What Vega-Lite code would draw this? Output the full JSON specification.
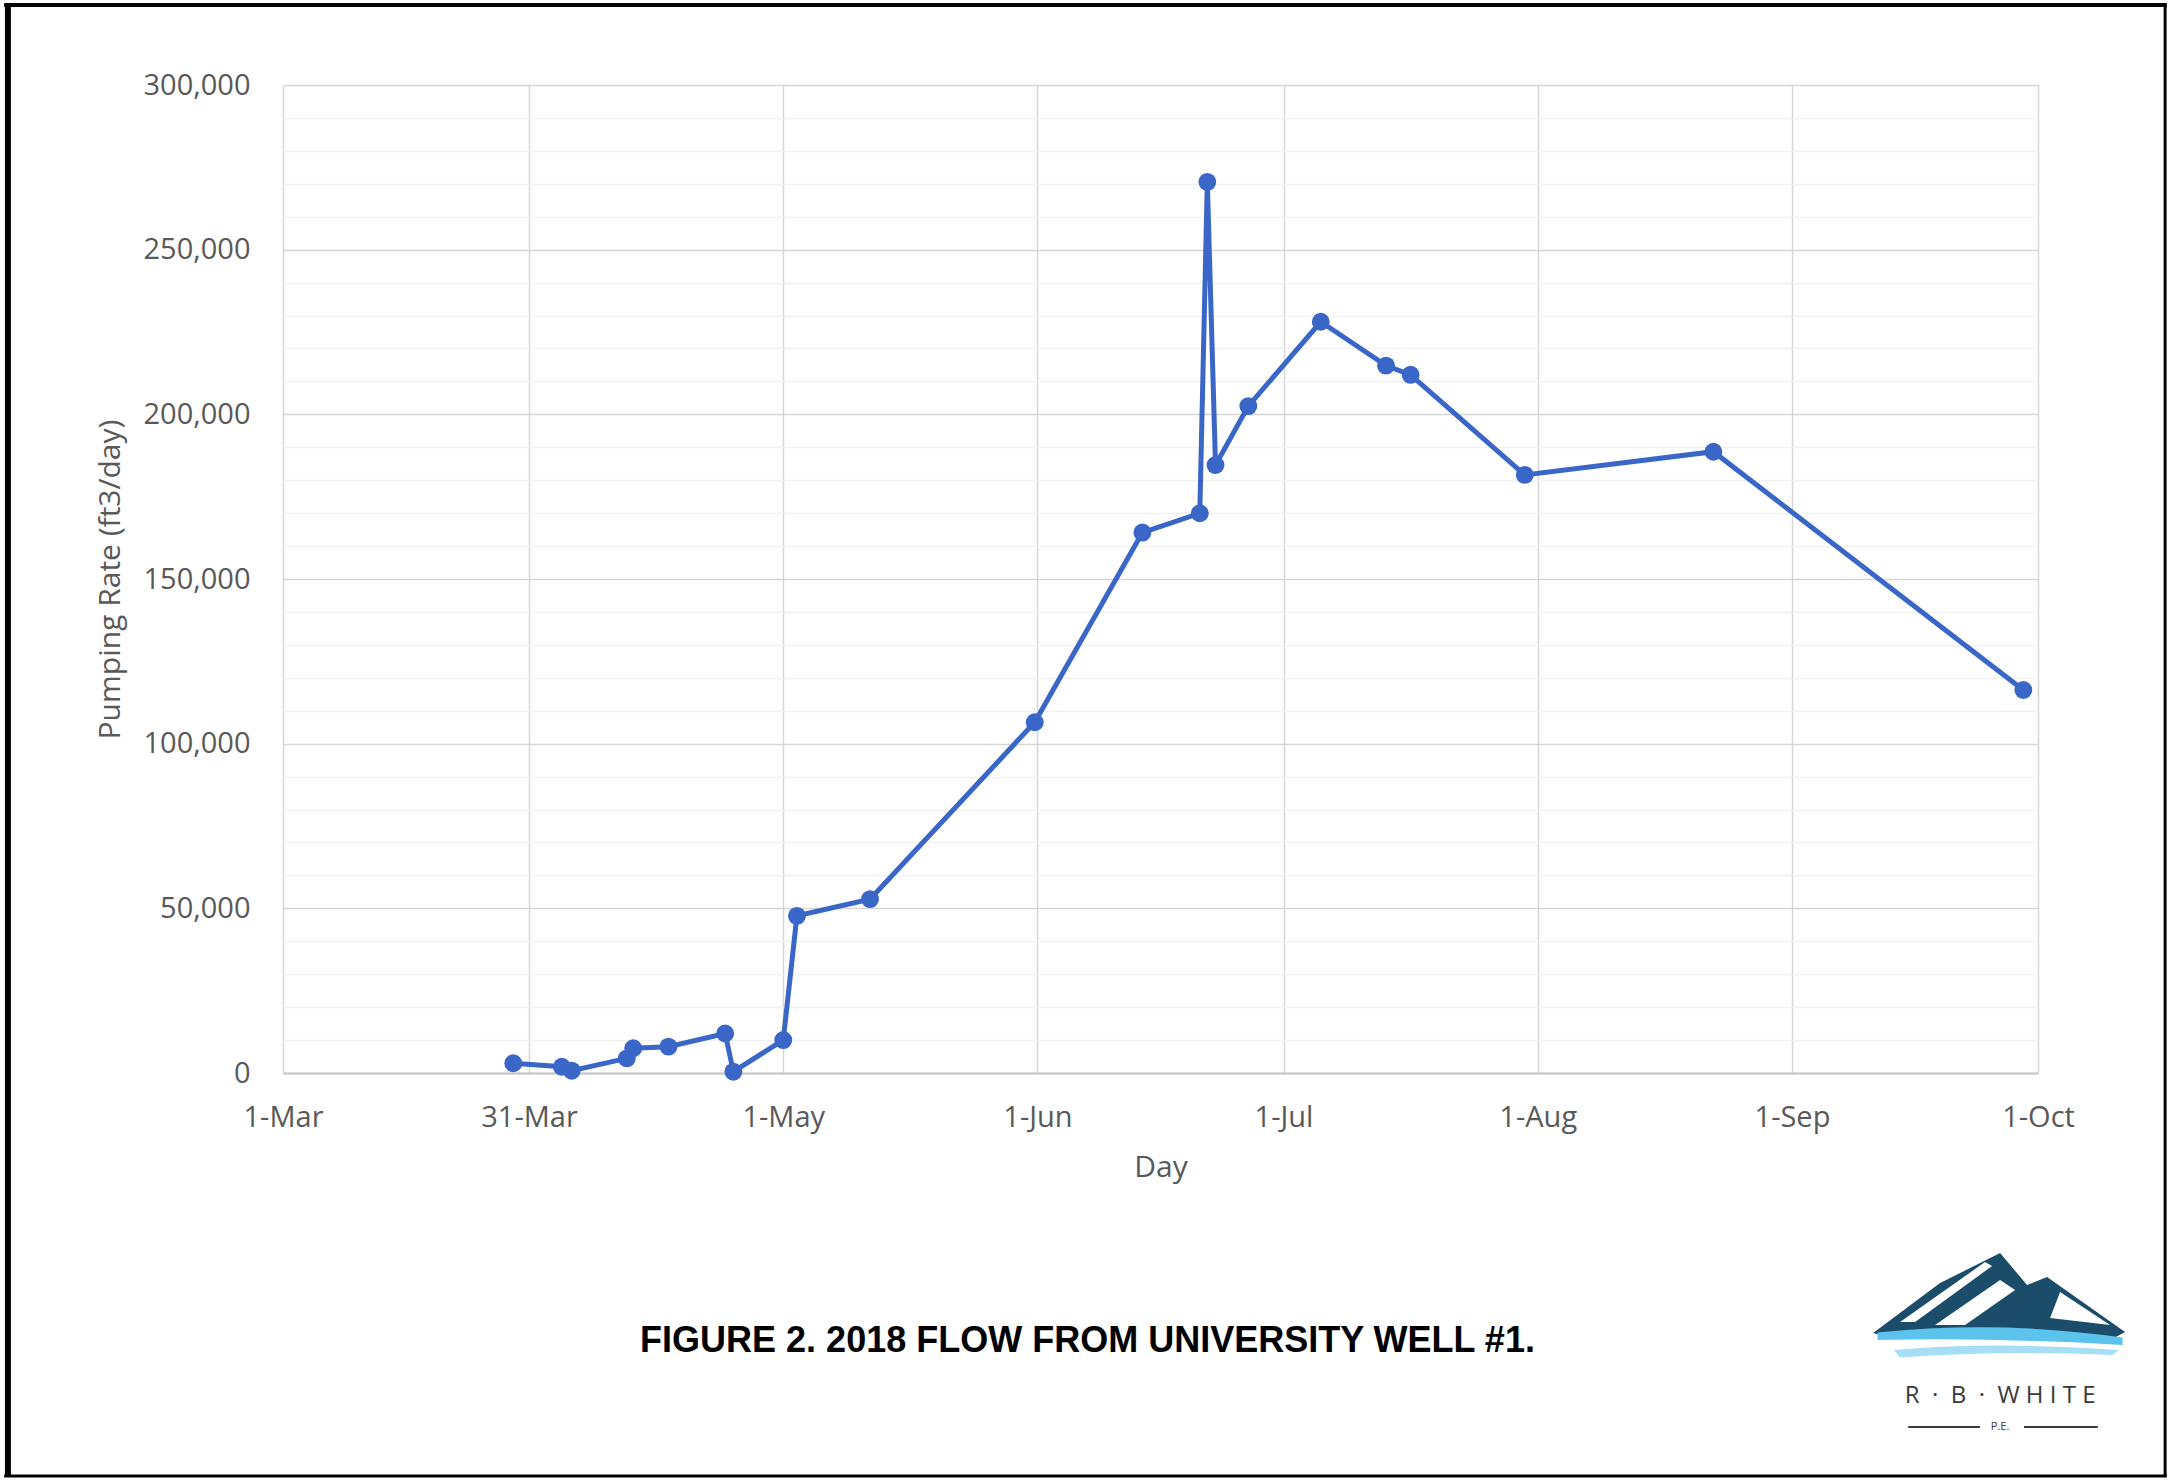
{
  "$schema": "https://vega.github.io/schema/vega-lite/v6.json",
  "autosize": "none",
  "width": 1755,
  "height": 988,
  "padding": {"left": 283, "top": 85, "right": 131, "bottom": 407},
  "background": "#ffffff",
  "config": {"view": {"stroke": null}},
  "title": {
    "text": "FIGURE 2. 2018 FLOW FROM UNIVERSITY WELL #1.",
    "orient": "bottom",
    "anchor": "middle",
    "font": "Liberation Sans",
    "fontSize": 36,
    "fontWeight": "bold",
    "color": "#000000",
    "dx": -73,
    "offset": -155
  },
  "datasets": {
    "flow": [
      {"date": "2018-03-29T02:00:00", "rate": 2950},
      {"date": "2018-04-04T00:00:00", "rate": 1900},
      {"date": "2018-04-05T05:00:00", "rate": 700},
      {"date": "2018-04-11T22:00:00", "rate": 4450},
      {"date": "2018-04-12T17:00:00", "rate": 7500},
      {"date": "2018-04-17T00:00:00", "rate": 8000},
      {"date": "2018-04-23T22:00:00", "rate": 12000},
      {"date": "2018-04-24T22:00:00", "rate": 400},
      {"date": "2018-05-01T00:00:00", "rate": 10000},
      {"date": "2018-05-02T16:00:00", "rate": 47700},
      {"date": "2018-05-11T14:00:00", "rate": 52800},
      {"date": "2018-05-31T16:00:00", "rate": 106500},
      {"date": "2018-06-13T19:00:00", "rate": 164100},
      {"date": "2018-06-20T19:00:00", "rate": 169950},
      {"date": "2018-06-21T17:00:00", "rate": 270600},
      {"date": "2018-06-22T17:00:00", "rate": 184600},
      {"date": "2018-06-26T17:00:00", "rate": 202500},
      {"date": "2018-07-05T13:00:00", "rate": 228100},
      {"date": "2018-07-13T12:00:00", "rate": 214800},
      {"date": "2018-07-16T12:00:00", "rate": 212000},
      {"date": "2018-07-30T10:00:00", "rate": 181600},
      {"date": "2018-08-22T10:00:00", "rate": 188650},
      {"date": "2018-09-29T05:00:00", "rate": 116300}
    ],
    "one": [{}]
  },
  "layer": [
    {
      "data": {"name": "flow"},
      "mark": {"type": "line", "color": "#3a66c8", "strokeWidth": 5},
      "encoding": {
        "x": {
          "field": "date",
          "type": "temporal",
          "scale": {"domain": [{"year": 2018, "month": 3, "date": 1}, {"year": 2018, "month": 10, "date": 1}]},
          "axis": {
            "title": "Day",
            "values": [
              {"year": 2018, "month": 3, "date": 1},
              {"year": 2018, "month": 3, "date": 31},
              {"year": 2018, "month": 5, "date": 1},
              {"year": 2018, "month": 6, "date": 1},
              {"year": 2018, "month": 7, "date": 1},
              {"year": 2018, "month": 8, "date": 1},
              {"year": 2018, "month": 9, "date": 1},
              {"year": 2018, "month": 10, "date": 1}
            ],
            "tickCount": 20,
            "format": "%-d-%b",
            "labelFlush": false,
            "labelOverlap": false,
            "grid": true,
            "gridColor": "#d6d6d6",
            "gridWidth": 1.5,
            "domain": true,
            "domainColor": "#c4c4c4",
            "domainWidth": 2,
            "ticks": false,
            "tickSize": 0,
            "labelPadding": 30,
            "labelFont": "Open Sans",
            "labelFontSize": 29,
            "labelColor": "#595959",
            "titleFont": "Open Sans",
            "titleFontSize": 30,
            "titleFontWeight": "normal",
            "titleColor": "#595959",
            "titlePadding": 20
          }
        },
        "y": {
          "field": "rate",
          "type": "quantitative",
          "scale": {"domain": [0, 300000], "nice": false},
          "axis": {
            "title": "Pumping Rate (ft3/day)",
            "values": [0, 10000, 20000, 30000, 40000, 50000, 60000, 70000, 80000, 90000, 100000, 110000, 120000, 130000, 140000, 150000, 160000, 170000, 180000, 190000, 200000, 210000, 220000, 230000, 240000, 250000, 260000, 270000, 280000, 290000, 300000],
            "tickCount": 60,
            "labelExpr": "datum.value % 50000 === 0 ? format(datum.value, ',') : ''",
            "labelOverlap": false,
            "grid": true,
            "gridColor": {"condition": {"test": "datum.value % 50000 === 0", "value": "#d6d6d6"}, "value": "#f1f1f1"},
            "gridWidth": 1.5,
            "domain": false,
            "ticks": false,
            "tickSize": 0,
            "labelPadding": 33,
            "labelFont": "Open Sans",
            "labelFontSize": 29,
            "labelColor": "#595959",
            "titleFont": "Open Sans",
            "titleFontSize": 30,
            "titleFontWeight": "normal",
            "titleColor": "#595959",
            "titlePadding": 18
          }
        }
      }
    },
    {
      "data": {"name": "flow"},
      "mark": {"type": "point", "filled": true, "color": "#3a66c8", "size": 320, "opacity": 1},
      "encoding": {
        "x": {"field": "date", "type": "temporal", "scale": {"domain": [{"year": 2018, "month": 3, "date": 1}, {"year": 2018, "month": 10, "date": 1}]}},
        "y": {"field": "rate", "type": "quantitative", "scale": {"domain": [0, 300000], "nice": false}}
      }
    },
    {
      "data": {"name": "one"},
      "mark": {"type": "point", "filled": true, "clip": false, "size": 62500, "color": "#1b4d6b", "opacity": 1, "strokeWidth": 0,
        "shape": "M-1.016,0.264 L-0.48,-0.136 L0,-0.376 L0.216,-0.12 L0.376,-0.184 L1,0.256 L0.88,0.32 L0,0.264 L-0.88,0.304 Z"},
      "encoding": {
        "x": {"datum": {"year": 2018, "month": 9, "date": 26, "hours": 9}, "type": "temporal", "scale": {"domain": [{"year": 2018, "month": 3, "date": 1}, {"year": 2018, "month": 10, "date": 1}]}},
        "y": {"datum": -68926, "type": "quantitative", "scale": {"domain": [0, 300000], "nice": false}}
      }
    },
    {
      "data": {"name": "one"},
      "mark": {"type": "point", "filled": true, "clip": false, "size": 62500, "color": "#ffffff", "opacity": 1, "strokeWidth": 0,
        "shape": "M-0.8,0.176 L-0.12,-0.304 L-0.064,-0.272 L-0.68,0.176 Z M-0.52,0.2 L0,-0.16 L0.12,-0.08 L-0.28,0.2 Z M0.4,0.144 L0.48,-0.064 L0.88,0.2 Z"},
      "encoding": {
        "x": {"datum": {"year": 2018, "month": 9, "date": 26, "hours": 9}, "type": "temporal", "scale": {"domain": [{"year": 2018, "month": 3, "date": 1}, {"year": 2018, "month": 10, "date": 1}]}},
        "y": {"datum": -68926, "type": "quantitative", "scale": {"domain": [0, 300000], "nice": false}}
      }
    },
    {
      "data": {"name": "one"},
      "mark": {"type": "point", "filled": true, "clip": false, "size": 62500, "color": "#5cc4ec", "opacity": 1, "strokeWidth": 0,
        "shape": "M-0.98,0.26 Q0,0.16 0.98,0.3 L0.98,0.36 Q0,0.3 -0.98,0.32 Z"},
      "encoding": {
        "x": {"datum": {"year": 2018, "month": 9, "date": 26, "hours": 9}, "type": "temporal", "scale": {"domain": [{"year": 2018, "month": 3, "date": 1}, {"year": 2018, "month": 10, "date": 1}]}},
        "y": {"datum": -68926, "type": "quantitative", "scale": {"domain": [0, 300000], "nice": false}}
      }
    },
    {
      "data": {"name": "one"},
      "mark": {"type": "point", "filled": true, "clip": false, "size": 62500, "color": "#a6def5", "opacity": 1, "strokeWidth": 0,
        "shape": "M-0.85,0.4 Q0,0.33 0.95,0.4 L0.9,0.44 Q0,0.4 -0.8,0.46 Z"},
      "encoding": {
        "x": {"datum": {"year": 2018, "month": 9, "date": 26, "hours": 9}, "type": "temporal", "scale": {"domain": [{"year": 2018, "month": 3, "date": 1}, {"year": 2018, "month": 10, "date": 1}]}},
        "y": {"datum": -68926, "type": "quantitative", "scale": {"domain": [0, 300000], "nice": false}}
      }
    },
    {
      "data": {"name": "one"},
      "mark": {"type": "text", "clip": false, "font": "Open Sans", "fontSize": 24, "color": "#3a3a3a", "align": "center", "baseline": "middle",
        "text": "R\u00a0\u00a0\u00b7\u00a0\u00a0B\u00a0\u00a0\u00b7\u00a0\u00a0W\u00a0H\u00a0I\u00a0T\u00a0E"},
      "encoding": {
        "x": {"datum": {"year": 2018, "month": 9, "date": 26, "hours": 9}, "type": "temporal", "scale": {"domain": [{"year": 2018, "month": 3, "date": 1}, {"year": 2018, "month": 10, "date": 1}]}},
        "y": {"datum": -98076, "type": "quantitative", "scale": {"domain": [0, 300000], "nice": false}}
      }
    },
    {
      "data": {"name": "one"},
      "mark": {"type": "text", "clip": false, "font": "Open Sans", "fontSize": 11, "color": "#3a3a3a", "align": "center", "baseline": "middle", "text": "P.E."},
      "encoding": {
        "x": {"datum": {"year": 2018, "month": 9, "date": 26, "hours": 9}, "type": "temporal", "scale": {"domain": [{"year": 2018, "month": 3, "date": 1}, {"year": 2018, "month": 10, "date": 1}]}},
        "y": {"datum": -107489, "type": "quantitative", "scale": {"domain": [0, 300000], "nice": false}}
      }
    },
    {
      "data": {"name": "one"},
      "mark": {"type": "rule", "clip": false, "color": "#3a3a3a", "strokeWidth": 2},
      "encoding": {
        "x": {"datum": {"year": 2018, "month": 9, "date": 15, "hours": 4}, "type": "temporal", "scale": {"domain": [{"year": 2018, "month": 3, "date": 1}, {"year": 2018, "month": 10, "date": 1}]}},
        "x2": {"datum": {"year": 2018, "month": 9, "date": 23, "hours": 22}},
        "y": {"datum": -107489, "type": "quantitative", "scale": {"domain": [0, 300000], "nice": false}}
      }
    },
    {
      "data": {"name": "one"},
      "mark": {"type": "rule", "clip": false, "color": "#3a3a3a", "strokeWidth": 2},
      "encoding": {
        "x": {"datum": {"year": 2018, "month": 9, "date": 29, "hours": 7}, "type": "temporal", "scale": {"domain": [{"year": 2018, "month": 3, "date": 1}, {"year": 2018, "month": 10, "date": 1}]}},
        "x2": {"datum": {"year": 2018, "month": 10, "date": 8, "hours": 7}},
        "y": {"datum": -107489, "type": "quantitative", "scale": {"domain": [0, 300000], "nice": false}}
      }
    },
    {
      "data": {"name": "one"},
      "mark": {"type": "rule", "clip": false, "color": "#000000", "strokeWidth": 6},
      "encoding": {
        "x": {"datum": {"year": 2018, "month": 1, "date": 26, "hours": 11}, "type": "temporal", "scale": {"domain": [{"year": 2018, "month": 3, "date": 1}, {"year": 2018, "month": 10, "date": 1}]}},
        "y": {"datum": 324290, "type": "quantitative", "scale": {"domain": [0, 300000], "nice": false}},
        "y2": {"datum": -122367}
      }
    },
    {
      "data": {"name": "one"},
      "mark": {"type": "rule", "clip": false, "color": "#000000", "strokeWidth": 3},
      "encoding": {
        "x": {"datum": {"year": 2018, "month": 10, "date": 16, "hours": 12}, "type": "temporal", "scale": {"domain": [{"year": 2018, "month": 3, "date": 1}, {"year": 2018, "month": 10, "date": 1}]}},
        "y": {"datum": 324290, "type": "quantitative", "scale": {"domain": [0, 300000], "nice": false}},
        "y2": {"datum": -122367}
      }
    },
    {
      "data": {"name": "one"},
      "mark": {"type": "rule", "clip": false, "color": "#000000", "strokeWidth": 4},
      "encoding": {
        "x": {"datum": {"year": 2018, "month": 1, "date": 26}, "type": "temporal", "scale": {"domain": [{"year": 2018, "month": 3, "date": 1}, {"year": 2018, "month": 10, "date": 1}]}},
        "x2": {"datum": {"year": 2018, "month": 10, "date": 16, "hours": 17}},
        "y": {"datum": 324290, "type": "quantitative", "scale": {"domain": [0, 300000], "nice": false}}
      }
    },
    {
      "data": {"name": "one"},
      "mark": {"type": "rule", "clip": false, "color": "#000000", "strokeWidth": 3},
      "encoding": {
        "x": {"datum": {"year": 2018, "month": 1, "date": 26}, "type": "temporal", "scale": {"domain": [{"year": 2018, "month": 3, "date": 1}, {"year": 2018, "month": 10, "date": 1}]}},
        "x2": {"datum": {"year": 2018, "month": 10, "date": 16, "hours": 17}},
        "y": {"datum": -122367, "type": "quantitative", "scale": {"domain": [0, 300000], "nice": false}}
      }
    }
  ]
}
